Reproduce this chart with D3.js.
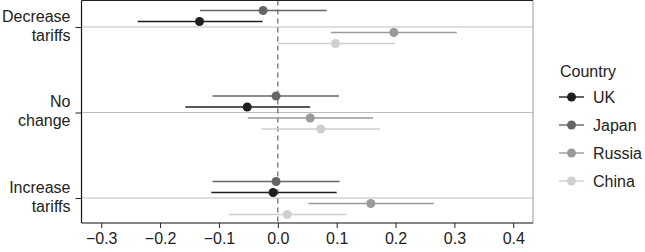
<!DOCTYPE html>
<html>
<head>
<meta charset="utf-8">
<script src="https://cdn.jsdelivr.net/npm/d3@7"></script>
<style>
  body { margin: 0; background: #fff; }
  text { font-family: "Liberation Sans", Arial, sans-serif; }
</style>
</head>
<body>
<div id="chart"></div>
<script>
// data ------------------------------------------------------------------------
const categories = ['Decrease tariffs', 'No change', 'Increase tariffs'];
const catLines = [['Decrease', 'tariffs'], ['No', 'change'], ['Increase', 'tariffs']];
const countries = ['UK', 'Japan', 'Russia', 'China'];
// dodge order top to bottom within each category
const dodgeOrder = ['Japan', 'UK', 'Russia', 'China'];
const colors = ['#1f1f1f', '#666666', '#9a9a9a', '#cfcfcf'];
const xTicks = [-0.3, -0.2, -0.1, 0.0, 0.1, 0.2, 0.3, 0.4];

// estimate, lower, upper per country, in category order
const ukEst = [-0.133, -0.052, -0.008];
const ukLo = [-0.238, -0.157, -0.113];
const ukHi = [-0.026, 0.055, 0.100];
const japanEst = [-0.025, -0.003, -0.003];
const japanLo = [-0.132, -0.111, -0.111];
const japanHi = [0.083, 0.104, 0.105];
const russiaEst = [0.197, 0.055, 0.158];
const russiaLo = [0.090, -0.051, 0.052];
const russiaHi = [0.304, 0.162, 0.265];
const chinaEst = [0.098, 0.073, 0.016];
const chinaLo = [0.000, -0.028, -0.083];
const chinaHi = [0.199, 0.174, 0.117];

const series = {
  UK: [ukEst, ukLo, ukHi],
  Japan: [japanEst, japanLo, japanHi],
  Russia: [russiaEst, russiaLo, russiaHi],
  China: [chinaEst, chinaLo, chinaHi]
};
const rows = [];
countries.forEach(c => {
  categories.forEach((cat, i) => {
    rows.push({ country: c, cat: cat, est: series[c][0][i], lo: series[c][1][i], hi: series[c][2][i] });
  });
});

// layout ----------------------------------------------------------------------
const width = 645, height = 252;
const margin = { top: 0.5, right: 112, bottom: 29, left: 81.5 };
const innerW = 533 - margin.left;
const innerH = 223 - margin.top;
const fs = '16px';

const svg = d3.select('#chart').append('svg')
  .attr('width', width)
  .attr('height', height);

const xScale = d3.scaleLinear()
  .domain([-0.3335, 0.4335])
  .range([margin.left, margin.left + innerW]);

const yScale = d3.scalePoint()
  .domain(categories)
  .range([27, 198]);

const dodge = d3.scalePoint()
  .domain(dodgeOrder)
  .range([-16.5, 16.5]);

const color = d3.scaleOrdinal().domain(countries).range(colors);

// gridlines
svg.append('g').selectAll('line')
  .data(categories)
  .join('line')
  .attr('x1', margin.left).attr('x2', margin.left + innerW)
  .attr('y1', d => yScale(d)).attr('y2', d => yScale(d))
  .attr('stroke', '#bdbdbd').attr('stroke-width', 1);

// zero reference line
svg.append('line')
  .attr('x1', xScale(0)).attr('x2', xScale(0))
  .attr('y1', margin.top).attr('y2', margin.top + innerH)
  .attr('stroke', '#7a7a7a').attr('stroke-width', 1.4)
  .attr('stroke-dasharray', '5,4');

// error bars and points
const g = svg.append('g');
g.selectAll('line.err')
  .data(rows)
  .join('line')
  .attr('class', 'err')
  .attr('x1', d => xScale(d.lo)).attr('x2', d => xScale(d.hi))
  .attr('y1', d => yScale(d.cat) + dodge(d.country))
  .attr('y2', d => yScale(d.cat) + dodge(d.country))
  .attr('stroke', d => color(d.country))
  .attr('stroke-width', 1.4);
g.selectAll('circle')
  .data(rows)
  .join('circle')
  .attr('cx', d => xScale(d.est))
  .attr('cy', d => yScale(d.cat) + dodge(d.country))
  .attr('r', 4.5)
  .attr('fill', d => color(d.country));

// panel border
const x0 = margin.left, x1 = margin.left + innerW, y0 = margin.top, y1 = margin.top + innerH;
svg.append('line').attr('x1', x1).attr('x2', x1).attr('y1', y0).attr('y2', y1)
  .attr('stroke', '#999').attr('stroke-width', 1);
svg.append('line').attr('x1', x0).attr('x2', x1).attr('y1', y0).attr('y2', y0)
  .attr('stroke', '#222').attr('stroke-width', 1.2);

// x axis
const xAxis = d3.axisBottom(xScale)
  .tickValues(xTicks)
  .tickFormat(d3.format('.1f'))
  .tickSize(5)
  .tickPadding(5);
const gx = svg.append('g')
  .attr('transform', 'translate(0,' + y1 + ')')
  .call(xAxis);
gx.select('.domain').attr('d', 'M' + x0 + ',0H' + x1).attr('stroke', '#111').attr('stroke-width', 1.2);
gx.selectAll('.tick line').attr('stroke', '#222');
gx.selectAll('.tick text')
  .attr('font-size', fs)
  .attr('fill', '#222')
  .text(d => d3.format('.1f')(d).replace('-', '\u2212'));

// y axis
const yAxis = d3.axisLeft(yScale).tickSize(6).tickFormat('');
const gy = svg.append('g')
  .attr('transform', 'translate(' + x0 + ',0)')
  .call(yAxis);
gy.select('.domain').attr('d', 'M0,' + y0 + 'V' + y1).attr('stroke', '#111').attr('stroke-width', 1.2);
gy.selectAll('.tick line').attr('stroke', '#222');

svg.append('g').selectAll('text')
  .data(categories)
  .join('text')
  .attr('x', 70.5)
  .attr('y', d => yScale(d) - 5.3)
  .attr('text-anchor', 'end')
  .attr('font-size', fs)
  .attr('fill', '#222')
  .each(function (d, i) {
    const t = d3.select(this);
    catLines[i].forEach((ln, j) => {
      t.append('tspan').attr('x', 70.5).attr('dy', j === 0 ? 0 : 19).text(ln);
    });
  });

// legend
const legend = svg.append('g');
legend.append('text')
  .attr('x', 560).attr('y', 77)
  .attr('font-size', fs)
  .attr('fill', '#222')
  .text('Country');
const item = legend.selectAll('g.item')
  .data(countries)
  .join('g')
  .attr('class', 'item')
  .attr('transform', (d, i) => 'translate(0,' + (97 + i * 28) + ')');
item.append('line')
  .attr('x1', 559).attr('x2', 584)
  .attr('stroke', d => color(d)).attr('stroke-width', 1.4);
item.append('circle')
  .attr('cx', 571.5).attr('r', 4.5)
  .attr('fill', d => color(d));
item.append('text')
  .attr('x', 593).attr('y', 5.8)
  .attr('font-size', fs)
  .attr('fill', '#222')
  .text(d => d);
</script>
</body>
</html>
